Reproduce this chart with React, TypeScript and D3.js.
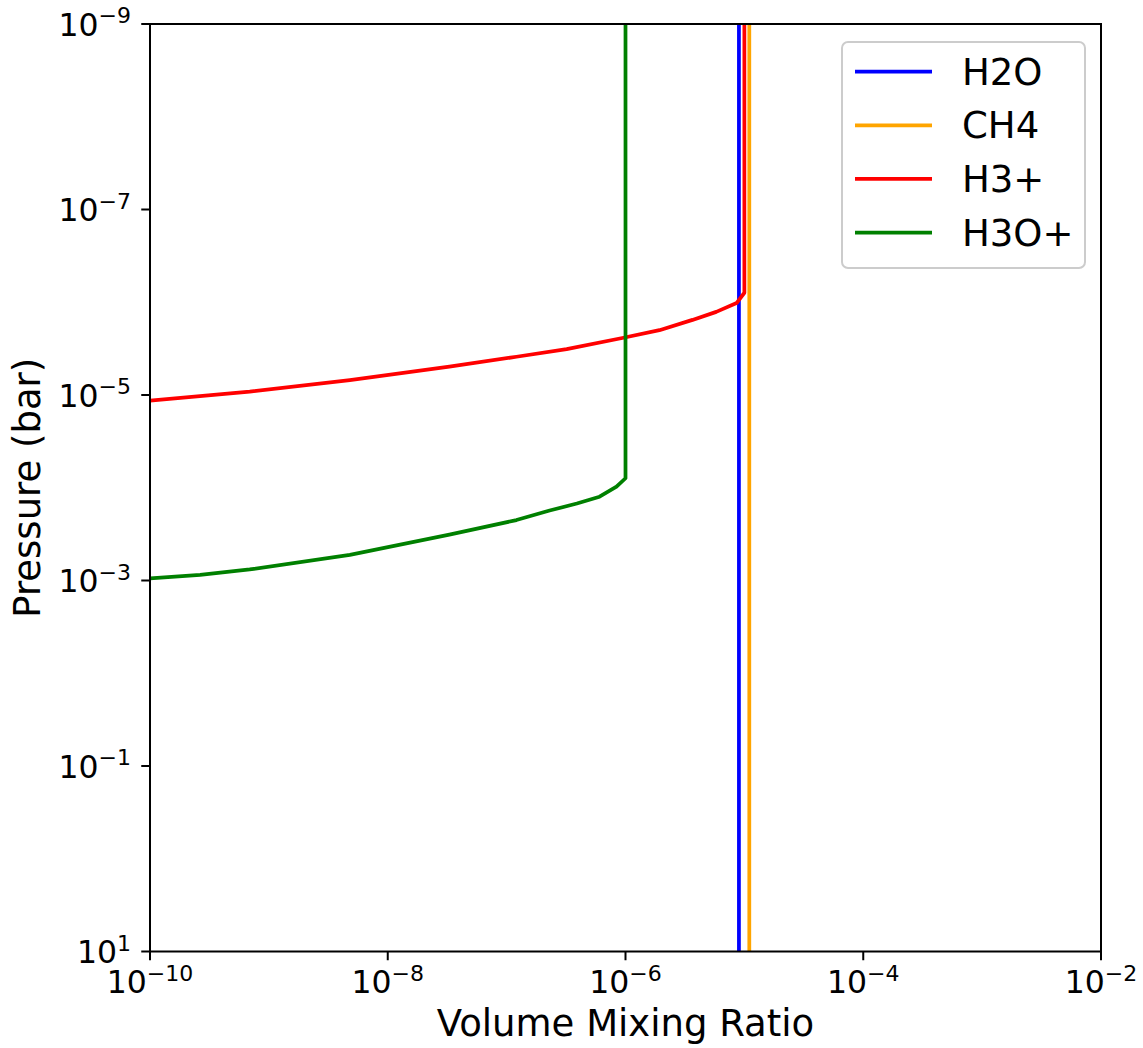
import React from "react";
import * as d3 from "d3";

// ---- data ----
const h2oVmr = [9e-6, 9e-6];
const h2oPressure = [10, 1e-9];

const ch4Vmr = [1.1e-5, 1.1e-5];
const ch4Pressure = [10, 1e-9];

const h3pVmr = [1e-10, 6.9e-10, 4.8e-9, 3.3e-8, 1.21e-7, 3.2e-7, 9.4e-7, 1.93e-6, 3.66e-6, 5.8e-6, 8.6e-6, 1e-5, 1e-5];
const h3pPressure = [1.15e-5, 9.2e-6, 6.9e-6, 4.95e-6, 3.87e-6, 3.2e-6, 2.43e-6, 2.0e-6, 1.55e-6, 1.27e-6, 1.02e-6, 7.9e-7, 1e-9];

const h3opVmr = [1e-10, 2.64e-10, 6.9e-10, 4.8e-9, 3.3e-8, 1.21e-7, 2.3e-7, 3.9e-7, 6.05e-7, 8.4e-7, 1.0e-6, 1.0e-6];
const h3opPressure = [9.5e-4, 8.7e-4, 7.6e-4, 5.3e-4, 3.2e-4, 2.23e-4, 1.76e-4, 1.48e-4, 1.25e-4, 9.75e-5, 7.9e-5, 1e-9];

const seriesNames = ["H2O", "CH4", "H3+", "H3O+"];
const seriesColors = ["#0000ff", "#ffa500", "#ff0000", "#008000"];

const xTickExps = [-10, -8, -6, -4, -2];
const yTickExps = [-9, -7, -5, -3, -1, 1];

const xLabel = "Volume Mixing Ratio";
const yLabel = "Pressure (bar)";

// ---- layout ----
const W = 1143;
const H = 1048;
const L = 150;
const R = 1101;
const T = 24;
const B = 951.5;
const FONT = "'DejaVu Sans', sans-serif";

function supText(exp: number) {
  return exp < 0 ? "\u2212" + Math.abs(exp) : String(exp);
}

export default function App() {
  const x = d3.scaleLog().domain([1e-10, 1e-2]).range([L, R]);
  const y = d3.scaleLog().domain([1e-9, 10]).range([T, B]);

  const series = [
    { vmr: h2oVmr, p: h2oPressure },
    { vmr: ch4Vmr, p: ch4Pressure },
    { vmr: h3pVmr, p: h3pPressure },
    { vmr: h3opVmr, p: h3opPressure },
  ];

  const line = d3
    .line<[number, number]>()
    .x((d) => x(d[0]))
    .y((d) => y(d[1]));

  const tickLen = 8.75;
  const legendX = 842;
  const legendY = 42;
  const legendW = 243;
  const legendH = 226;
  const rowY = [71.7, 125.3, 178.9, 232.5];

  return (
    <svg
      width={W}
      height={H}
      style={{ position: "absolute", left: 0, top: 0, background: "#fff" }}
      fontFamily={FONT}
    >
      <rect x={0} y={0} width={W} height={H} fill="#fff" />
      <defs>
        <clipPath id="plotclip">
          <rect x={L} y={T} width={R - L} height={B - T} />
        </clipPath>
      </defs>

      <g clipPath="url(#plotclip)">
        {series.map((s, i) => (
          <path
            key={seriesNames[i]}
            d={line(s.vmr.map((v, j) => [v, s.p[j]] as [number, number])) || ""}
            fill="none"
            stroke={seriesColors[i]}
            strokeWidth={3.75}
            strokeLinejoin="round"
          />
        ))}
      </g>

      {/* spines */}
      <rect x={L} y={T} width={R - L} height={B - T} fill="none" stroke="#000" strokeWidth={2} />

      {/* x ticks */}
      {xTickExps.map((e) => {
        const px = x(Math.pow(10, e));
        return (
          <g key={"x" + e}>
            <line x1={px} x2={px} y1={B} y2={B + tickLen} stroke="#000" strokeWidth={2} />
            <text x={px} y={993} textAnchor="middle" fontSize={31.5} fill="#000">
              <tspan>10</tspan>
              <tspan fontSize={22} dy={-12.5}>{supText(e)}</tspan>
            </text>
          </g>
        );
      })}

      {/* y ticks */}
      {yTickExps.map((e) => {
        const py = y(Math.pow(10, e));
        return (
          <g key={"y" + e}>
            <line x1={L - tickLen} x2={L} y1={py} y2={py} stroke="#000" strokeWidth={2} />
            <text x={131} y={py + 11.5} textAnchor="end" fontSize={31.5} fill="#000">
              <tspan>10</tspan>
              <tspan fontSize={22} dy={-12.5}>{supText(e)}</tspan>
            </text>
          </g>
        );
      })}

      {/* axis labels */}
      <text x={(L + R) / 2} y={1036} textAnchor="middle" fontSize={37} fill="#000">
        {xLabel}
      </text>
      <text
        transform={`translate(40,${(T + B) / 2}) rotate(-90)`}
        textAnchor="middle"
        fontSize={37}
        fill="#000"
      >
        {yLabel}
      </text>

      {/* legend */}
      <rect
        x={legendX}
        y={legendY}
        width={legendW}
        height={legendH}
        rx={6}
        ry={6}
        fill="#fff"
        fillOpacity={0.8}
        stroke="#cccccc"
        strokeWidth={2}
      />
      {seriesNames.map((name, i) => (
        <g key={"leg" + name}>
          <line x1={855} x2={932} y1={rowY[i]} y2={rowY[i]} stroke={seriesColors[i]} strokeWidth={3.75} />
          <text x={962} y={rowY[i] + 13} fontSize={37} fill="#000">
            {name}
          </text>
        </g>
      ))}
    </svg>
  );
}
